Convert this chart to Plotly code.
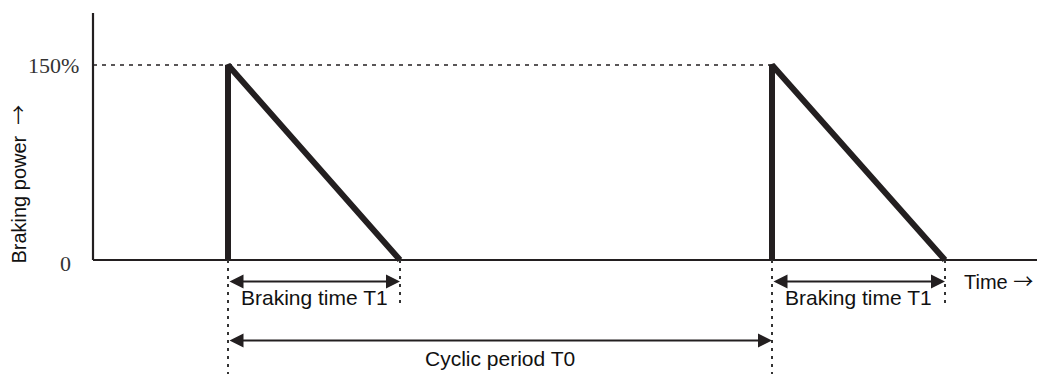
import plotly.graph_objects as go

# ---- data (time in arbitrary units, power in %) ----
pulse_start = [135, 679]          # start of each braking pulse
braking_T1 = [172, 173]           # braking time T1 of each pulse
peak_power = 150                  # peak braking power (%)
power_ticks = [0, 150]
power_tick_labels = ["0", "150%"]
time_axis_end = 944
power_axis_top = 190

LINE = "#231f20"
TXT = "#111111"
SANS = "Liberation Sans, Arial, sans-serif"
SERIF = "Liberation Serif, Times New Roman, serif"
ARROW = '<span style="font-family:\'Noto Sans CJK SC\'">\u2192</span>'

X_MIN, X_MAX = -93, 944
Y_MIN, Y_MAX = -87.69, 200

fig = go.Figure()

# axes lines
fig.add_shape(type="line", x0=0, x1=0, y0=0, y1=power_axis_top,
              line=dict(color=LINE, width=2.2), layer="below")
fig.add_shape(type="line", x0=0, x1=time_axis_end, y0=0, y1=0,
              line=dict(color=LINE, width=2.2), layer="below")

# dotted 150% reference line up to second pulse
fig.add_shape(type="line", x0=0, x1=pulse_start[1], y0=peak_power, y1=peak_power,
              line=dict(color=LINE, width=1.5, dash="4px,5px"), layer="below")

# dotted vertical guide lines
for s, t1 in zip(pulse_start, braking_T1):
    fig.add_shape(type="line", x0=s, x1=s, y0=0, y1=Y_MIN,
                  line=dict(color="#333333", width=2, dash="3px,5px"), layer="below")
    fig.add_shape(type="line", x0=s + t1, x1=s + t1, y0=0, y1=-34,
                  line=dict(color="#333333", width=2, dash="3px,5px"), layer="below")

# braking pulses
for s, t1 in zip(pulse_start, braking_T1):
    fig.add_trace(go.Scatter(x=[s, s, s + t1], y=[0, peak_power, 0],
                             mode="lines", line=dict(color=LINE, width=6),
                             hoverinfo="skip", showlegend=False))

# double-headed arrows + labels
def dbl_arrow(x0, x1, y, label, ly):
    fig.add_annotation(x=x1, y=y, ax=x0, ay=y, xref="x", yref="y",
                       axref="x", ayref="y", text="", showarrow=True,
                       arrowhead=2, arrowside="end+start", arrowsize=1.4,
                       arrowwidth=2, arrowcolor=LINE, standoff=0, startstandoff=0)
    fig.add_annotation(x=(x0 + x1) / 2, y=ly, xref="x", yref="y", text=label,
                       showarrow=False, font=dict(family=SANS, size=21, color=TXT))

for s, t1 in zip(pulse_start, braking_T1):
    dbl_arrow(s, s + t1, -16.5, "Braking time T1", -28.5)

dbl_arrow(pulse_start[0], pulse_start[1], -62, "Cyclic period T0", -76)

# tick labels
fig.add_annotation(x=-12, y=power_ticks[1], xref="x", yref="y", text=power_tick_labels[1],
                   showarrow=False, xanchor="right",
                   font=dict(family=SERIF, size=22, color="#333333"))
fig.add_annotation(x=-20, y=-2.5, xref="x", yref="y", text=power_tick_labels[0],
                   showarrow=False, xanchor="right",
                   font=dict(family=SERIF, size=22, color="#333333"))

# axis titles
fig.add_annotation(x=-75, y=58, xref="x", yref="y", text="Braking power  " + ARROW,
                   showarrow=False, textangle=-90,
                   font=dict(family=SANS, size=20, color=TXT))
fig.add_annotation(x=869, y=-16, xref="x", yref="y", text="Time " + ARROW,
                   showarrow=False, xanchor="left",
                   font=dict(family=SANS, size=20, color=TXT))

fig.update_layout(
    width=1037, height=374,
    margin=dict(l=0, r=0, t=0, b=0),
    paper_bgcolor="white", plot_bgcolor="white",
    xaxis=dict(range=[X_MIN, X_MAX], visible=False, fixedrange=True),
    yaxis=dict(range=[Y_MIN, Y_MAX], visible=False, fixedrange=True),
    showlegend=False,
)

fig.write_html("out.html", config={"displayModeBar": False},
               post_script="document.body.style.margin='0';document.body.style.overflow='hidden';")
